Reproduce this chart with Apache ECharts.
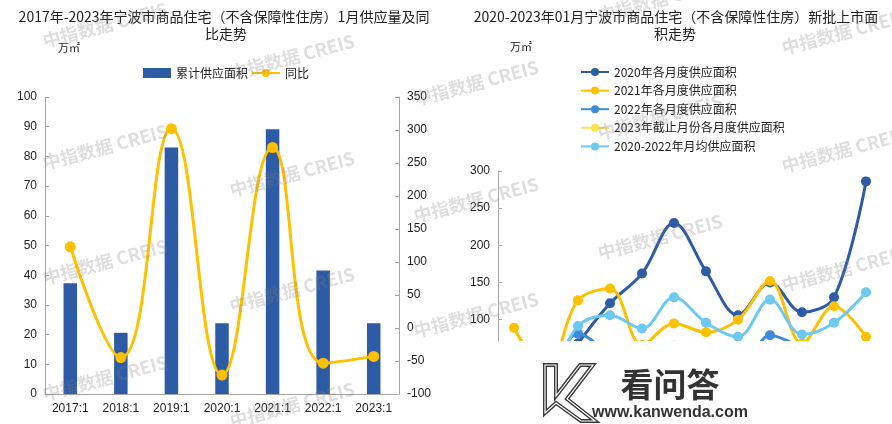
<!DOCTYPE html>
<html>
<head>
<meta charset="utf-8">
<script src="https://cdn.jsdelivr.net/npm/echarts@6/dist/echarts.min.js"></script>
<style>html,body{margin:0;padding:0;background:#fff;}#c{width:892px;height:424px;}</style>
</head>
<body>
<div id="c"></div>
<script>
// ---- Left chart data ----
const leftCategories = ['2017:1', '2018:1', '2019:1', '2020:1', '2021:1', '2022:1', '2023:1'];
const cumulativeSupply = [37.3, 20.6, 83.0, 23.8, 89.1, 41.6, 23.8];
const yoyChange = [123, -44.8, 302, -71.3, 273.5, -53.3, -43];

// ---- Right chart data ----
const months = ['1月', '2月', '3月', '4月', '5月', '6月', '7月', '8月', '9月', '10月', '11月', '12月'];
const supply2020 = [23.8, 8, 68, 122, 162, 230, 165, 106, 150, 110, 130, 286];
const supply2021 = [89.1, 30, 126, 142, 66, 95, 83, 100, 152, 68, 118, 77];
const supply2022 = [41.6, 35, 81, 54, 36, 65, 40, 25, 79, 62, 40, 48];
const supply2023 = [23.8];
const supplyAvg = [51.5, 24, 91.5, 106, 88, 130, 96, 77, 127, 80, 96, 137];

const seriesNames = ['2020年各月度供应面积', '2021年各月度供应面积', '2022年各月度供应面积', '2023年截止月份各月度供应面积', '2020-2022年月均供应面积'];
const seriesColors = ['#2D5BA6', '#FFC000', '#3D8BD9', '#FFE34D', '#6DC8F2'];

const FONT = '"Liberation Sans", "Noto Sans CJK SC", sans-serif';
const CJK = '"Noto Sans CJK SC", "Liberation Sans", sans-serif';
const axisColor = '#a6a6a6';
const labelColor = '#222';

const watermarkCenters = [
  [105, 25], [105, 147], [105, 262], [105, 378],
  [292, 57], [292, 174], [292, 290], [292, 405],
  [476, 83], [476, 200], [476, 315],
  [660, -1], [660, 117], [660, 237],
  [844, 32], [844, 150], [844, 269]
];

function txt(text, x, y, size, opts) {
  opts = opts || {};
  return {
    type: 'text', x: x, y: y, z: opts.z || 50, rotation: opts.rotation || 0, silent: true,
    style: {
      text: text, x: 0, y: 0,
      align: opts.align || 'center', textAlign: opts.align || 'center',
      verticalAlign: 'middle', textVerticalAlign: 'middle',
      fontSize: size, fontFamily: opts.family || CJK, fontWeight: opts.weight || 'normal',
      fill: opts.fill || '#222'
    }
  };
}

const graphics = [];
watermarkCenters.forEach(function (p) {
  graphics.push(txt('中指数据 CREIS', p[0], p[1], 18, { rotation: 0.26, weight: 'bold', fill: 'rgba(128,128,128,0.26)', z: 100 }));
});
graphics.push(txt('2017年-2023年宁波市商品住宅（不含保障性住房）1月供应量及同', 224, 17, 14));
graphics.push(txt('比走势', 226, 34, 14));
graphics.push(txt('2020-2023年01月宁波市商品住宅（不含保障性住房）新批上市面', 676, 17, 14));
graphics.push(txt('积走势', 675, 34, 14));
graphics.push(txt('万㎡', 58, 48, 11, { align: 'left' }));
graphics.push(txt('万㎡', 510, 47, 11, { align: 'left' }));
// white overlay + site logo at bottom-right
graphics.push({ type: 'rect', z: 200, silent: true, shape: { x: 440, y: 341, width: 452, height: 83 }, style: { fill: '#fff' } });
const kPts = [[545, 365], [556, 365], [556, 396], [580, 365], [593, 365], [567, 399], [595, 421], [581, 421], [556, 403], [545, 413]];
graphics.push({ type: 'polygon', z: 201, silent: true, shape: { points: kPts }, style: { fill: 'none', stroke: '#3a3a3a', lineWidth: 4, lineJoin: 'miter' } });
graphics.push({ type: 'polygon', z: 202, silent: true, shape: { points: kPts }, style: { fill: 'none', stroke: '#fff', lineWidth: 1.2, lineJoin: 'miter' } });
graphics.push(txt('看问答', 670, 384, 33, { weight: 'bold', fill: '#333', z: 202 }));
graphics.push(txt('www.kanwenda.com', 670, 413, 16, { weight: 'bold', fill: '#333', z: 202, family: FONT }));

const rightSeriesData = [supply2020, supply2021, supply2022, supply2023, supplyAvg];
const rightSeries = rightSeriesData.map(function (d, i) {
  return {
    name: seriesNames[i], type: 'line', xAxisIndex: 1, yAxisIndex: 2,
    data: d, smooth: 0.35, symbol: 'circle', symbolSize: 10,
    lineStyle: { width: 3, color: seriesColors[i] },
    itemStyle: { color: seriesColors[i] }, z: 3 + i
  };
});

const chart = echarts.init(document.getElementById('c'), null, { renderer: 'canvas' });
chart.setOption({
  animation: false,
  backgroundColor: '#fff',
  textStyle: { fontFamily: FONT },
  legend: [
    {
      left: 143, top: 67, padding: 0, itemWidth: 28, itemHeight: 10, itemGap: 3,
      textStyle: { fontSize: 12, color: '#222', fontFamily: CJK },
      data: [{ name: '累计供应面积', icon: 'rect' }, { name: '同比' }]
    },
    {
      orient: 'vertical', left: 580, top: 66, padding: 0, itemWidth: 28, itemHeight: 10, itemGap: 6.6,
      textStyle: { fontSize: 12, color: '#222', fontFamily: CJK },
      data: seriesNames
    }
  ],
  grid: [
    { left: 45, top: 97, width: 354, height: 297 },
    { left: 498, top: 171, width: 384, height: 223 }
  ],
  xAxis: [
    {
      type: 'category', gridIndex: 0, data: leftCategories,
      axisLine: { lineStyle: { color: axisColor } },
      axisTick: { inside: true, length: 4, lineStyle: { color: axisColor } },
      axisLabel: { color: labelColor, fontSize: 12, margin: 9 }
    },
    {
      type: 'category', gridIndex: 1, data: months,
      axisLine: { lineStyle: { color: axisColor } },
      axisTick: { inside: true, length: 4, lineStyle: { color: axisColor } },
      axisLabel: { color: labelColor, fontSize: 12 }
    }
  ],
  yAxis: [
    {
      type: 'value', gridIndex: 0, min: 0, max: 100, interval: 10,
      axisLine: { show: true, lineStyle: { color: axisColor } },
      axisTick: { show: true, inside: true, length: 4, lineStyle: { color: axisColor } },
      splitLine: { show: false },
      axisLabel: { color: labelColor, fontSize: 12, margin: 8 }
    },
    {
      type: 'value', gridIndex: 0, position: 'right', min: -100, max: 350, interval: 50,
      axisLine: { show: true, lineStyle: { color: axisColor } },
      axisTick: { show: true, inside: true, length: 4, lineStyle: { color: axisColor } },
      splitLine: { show: false },
      axisLabel: { color: labelColor, fontSize: 12, margin: 8 }
    },
    {
      type: 'value', gridIndex: 1, min: 0, max: 300, interval: 50,
      axisLine: { show: true, lineStyle: { color: axisColor } },
      axisTick: { show: true, inside: true, length: 4, lineStyle: { color: axisColor } },
      splitLine: { show: false },
      axisLabel: { color: labelColor, fontSize: 12, margin: 8 }
    }
  ],
  series: [
    {
      name: '累计供应面积', type: 'bar', xAxisIndex: 0, yAxisIndex: 0,
      data: cumulativeSupply, barWidth: 13.5,
      itemStyle: { color: '#2D5BA6' }
    },
    {
      name: '同比', type: 'line', xAxisIndex: 0, yAxisIndex: 1,
      data: yoyChange, smooth: 0.45, symbol: 'circle', symbolSize: 11,
      lineStyle: { width: 3, color: '#FFC000' }, itemStyle: { color: '#FFC000' }, z: 5
    }
  ].concat(rightSeries),
  graphic: graphics
});
</script>
</body>
</html>
